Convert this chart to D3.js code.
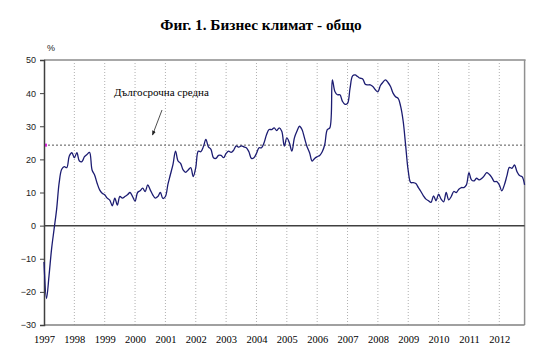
<!DOCTYPE html>
<html><head><meta charset="utf-8">
<script src="https://cdn.jsdelivr.net/npm/d3@7"></script>
<style>body{margin:0;background:#fff}svg{display:block}</style>
</head><body>
<svg id="c" width="557" height="360"></svg>
<script>
const title = "Фиг. 1. Бизнес климат - общо";
const unitLabel = "%";
const annotation = "Дългосрочна средна";
const yearLabels = [1997,1998,1999,2000,2001,2002,2003,2004,2005,2006,2007,2008,2009,2010,2011,2012];
const yTicks = [-30,-20,-10,0,10,20,30,40,50];
const startYear = 1997;
const longTermAverage = 24.3;
// monthly values, Jan 1997 - Nov 2012
const values = [
 -11,-22,-15,-7,-1,5,13,17,17.8,17.5,21,22,
 20.5,22,19.5,19.3,20.8,21.5,22.1,16.8,15.3,12.8,10.8,9.8,
 9.3,8.3,7.7,6,8.3,6.2,8.8,8.3,8.8,9.3,10,8.8,
 7.4,10,10.5,11.3,10.3,12.3,10.8,9.3,8.3,8.8,10,8.2,
 8.8,12.5,15.5,18.5,22.5,19.5,18.8,16.8,16.1,16.8,17.5,14.8,
 17.5,22.5,22.3,23.8,26,23.8,23,20.5,20.3,21.2,21.2,20.5,
 21.8,22.5,22.1,22.8,24.1,23.7,24.1,23.8,23.5,22.3,20.3,20.5,
 21.8,23.5,23.5,25,27.5,29,29,29.5,28.7,29.5,28.5,24,
 26.5,25,22.5,26.5,28.5,30,29,26.4,23.8,22,19.5,20.3,
 20.8,21.2,22.3,24.5,29,29.5,44,40.5,39.5,39.5,37.5,36.6,
 36.9,41.5,45.2,45.5,45,44.5,44.3,42.7,42.5,42.5,42,41,
 40.4,42.3,43.3,44,43.2,42,40,38.9,38.4,36,31.5,24,
 16.5,13,13,12.7,11.5,10.3,9,8,7.5,7,9,7.5,
 9.5,8,7.2,10,7.8,8.8,10.3,10,11,11.5,11.5,12.3,
 16,13.8,13.5,14.3,13.8,14.2,15,16,15.5,14.6,13.3,13.3,
 12.3,10.5,12.3,15,17.6,17.3,18.3,16.3,15.1,14.8,12.3
];

const svg = d3.select("#c");
const plotLeft = 44, plotTop = 60, plotBottom = 325;
const x = d3.scaleLinear().domain([1997, 2012]).range([plotLeft, 499.3]);
const y = d3.scaleLinear().domain([-30, 50]).range([plotBottom, plotTop]);
const lastT = startYear + (values.length - 1) / 12;
const plotRight = x(lastT);

// title
svg.append("text").attr("x", 261).attr("y", 30).attr("text-anchor", "middle")
  .attr("font-family", "Liberation Serif, Times New Roman, serif").attr("font-weight", "bold")
  .attr("font-size", 15.3).attr("fill", "#000").text(title);

// vertical dotted gridlines
svg.append("g").selectAll("line").data(yearLabels.slice(1)).join("line")
  .attr("x1", d => x(d)).attr("x2", d => x(d)).attr("y1", plotTop).attr("y2", plotBottom)
  .attr("stroke", "#b0b0b0").attr("stroke-width", 1).attr("stroke-dasharray", "1,2");

// top, right and bottom border
svg.append("line").attr("x1", plotLeft).attr("x2", plotRight + 1).attr("y1", plotTop).attr("y2", plotTop)
  .attr("stroke", "#a8a8a8").attr("stroke-width", 2);
svg.append("line").attr("x1", plotRight).attr("x2", plotRight).attr("y1", plotTop).attr("y2", plotBottom)
  .attr("stroke", "#909090").attr("stroke-width", 1.5);
svg.append("line").attr("x1", plotLeft).attr("x2", plotRight).attr("y1", plotBottom).attr("y2", plotBottom)
  .attr("stroke", "#808080").attr("stroke-width", 1.5);

// zero line
svg.append("line").attr("x1", plotLeft).attr("x2", plotRight).attr("y1", y(0)).attr("y2", y(0))
  .attr("stroke", "#404040").attr("stroke-width", 1.5);

// long-term average dashed line
svg.append("line").attr("x1", plotLeft).attr("x2", plotRight).attr("y1", y(longTermAverage)).attr("y2", y(longTermAverage))
  .attr("stroke", "#555").attr("stroke-width", 1).attr("stroke-dasharray", "2,2");
svg.append("rect").attr("x", plotLeft).attr("y", y(longTermAverage) - 1.5).attr("width", 3).attr("height", 3)
  .attr("fill", "#e020e0");

// y axis
const yAxis = d3.axisLeft(y).tickValues(yTicks).tickSize(4).tickFormat(d3.format("d"));
const gy = svg.append("g").attr("transform", `translate(${plotLeft},0)`).call(yAxis);
gy.select(".domain").attr("stroke", "#404040").attr("stroke-width", 1.5);
gy.selectAll(".tick line").attr("stroke", "#404040");
gy.selectAll(".tick text").attr("font-family", "Liberation Sans, Arial, sans-serif")
  .attr("font-size", 9).attr("fill", "#222").attr("x", -8);

svg.append("text").attr("x", 47).attr("y", 51).attr("font-family", "Liberation Sans, Arial, sans-serif")
  .attr("font-size", 9).attr("fill", "#222").text(unitLabel);

// x axis labels
const xAxis = d3.axisBottom(x).tickValues(yearLabels).tickSize(0).tickFormat(d3.format("d"));
const gx = svg.append("g").attr("transform", `translate(0,${plotBottom})`).call(xAxis);
gx.select(".domain").remove();
gx.selectAll(".tick text").attr("font-family", "Liberation Serif, Times New Roman, serif")
  .attr("font-size", 10.5).attr("fill", "#000").attr("y", 11);

// line
const line = d3.line().x((d, i) => x(startYear + i / 12)).y(d => y(d)).curve(d3.curveCatmullRom.alpha(0.5));
svg.append("path").datum(values).attr("d", line).attr("fill", "none")
  .attr("stroke", "#1c1c72").attr("stroke-width", 1.3);

// annotation
svg.append("text").attr("x", 114).attr("y", 96).attr("font-family", "Liberation Serif, Times New Roman, serif")
  .attr("font-size", 11).attr("fill", "#000").text(annotation);
svg.append("defs").append("marker").attr("id", "ah").attr("viewBox", "0 0 10 10").attr("refX", 9).attr("refY", 5)
  .attr("markerWidth", 6).attr("markerHeight", 6).attr("orient", "auto")
  .append("path").attr("d", "M0,1 L10,5 L0,9 z").attr("fill", "#222");
svg.append("line").attr("x1", 162).attr("y1", 110).attr("x2", 152.5).attr("y2", 135)
  .attr("stroke", "#222").attr("stroke-width", 0.8).attr("marker-end", "url(#ah)");
</script>
</body></html>
